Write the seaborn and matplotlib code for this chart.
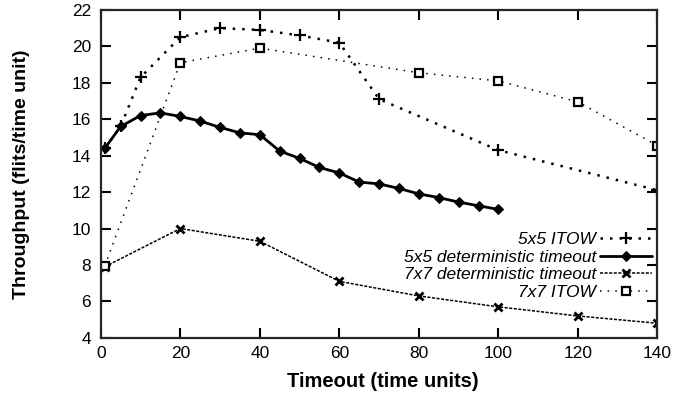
import numpy as np
import pandas as pd
import matplotlib
matplotlib.use('Agg')
import matplotlib.pyplot as plt
import seaborn as sns

# values
itow55_x = [1, 5, 10, 20, 30, 40, 50, 60, 70, 100, 140]
itow55_y = [14.4, 15.6, 18.3, 20.5, 21.0, 20.9, 20.6, 20.2, 17.1, 14.3, 12.1]

det55_x = [1, 5, 10, 15, 20, 25, 30, 35, 40, 45, 50, 55, 60, 65, 70, 75, 80, 85, 90, 95, 100]
det55_y = [14.4, 15.6, 16.2, 16.35, 16.15, 15.9, 15.55, 15.25, 15.15, 14.25, 13.85,
           13.35, 13.05, 12.55, 12.45, 12.2, 11.9, 11.7, 11.45, 11.25, 11.05]

det77_x = [1, 20, 40, 60, 80, 100, 120, 140]
det77_y = [7.9, 10.0, 9.3, 7.1, 6.3, 5.7, 5.2, 4.8]

itow77_x = [1, 20, 40, 80, 100, 120, 140]
itow77_y = [7.95, 19.1, 19.9, 18.55, 18.1, 16.95, 14.55]

x_ticks = [0, 20, 40, 60, 80, 100, 120, 140]
y_ticks = [4, 6, 8, 10, 12, 14, 16, 18, 20, 22]

sns.set_style('ticks')
plt.rcParams['font.family'] = ['Liberation Sans', 'DejaVu Sans']
plt.rcParams['text.color'] = 'black'
plt.rcParams['xtick.color'] = 'black'
plt.rcParams['ytick.color'] = 'black'
plt.rcParams['axes.labelcolor'] = 'black'

fig = plt.figure(figsize=(6.95, 4.12), dpi=100)
ax = fig.add_axes([0.145, 0.18, 0.801, 0.796])

series = [
    ('5x5 ITOW', itow55_x, itow55_y,
     dict(marker='+', markersize=8, markeredgewidth=1.6, linestyle=(0, (1, 2.8)), linewidth=1.8)),
    ('5x5 deterministic timeout', det55_x, det55_y,
     dict(marker='D', markersize=5.5, linestyle='-', linewidth=2.0)),
    ('7x7 deterministic timeout', det77_x, det77_y,
     dict(marker='x', markersize=6, markeredgewidth=2.0, linestyle=(0, (2, 1)), linewidth=1.1)),
    ('7x7 ITOW', itow77_x, itow77_y,
     dict(marker='s', markersize=6, markeredgewidth=1.6, markerfacecolor='white',
          linestyle=(0, (1, 4)), linewidth=1.1)),
]

for name, xs, ys, kw in series:
    df = pd.DataFrame({'timeout': xs, 'throughput': ys})
    sns.lineplot(data=df, x='timeout', y='throughput', ax=ax, color='black',
                 label=name, markeredgecolor='black', **kw)

ax.set_xlim(0, 140)
ax.set_ylim(4, 22)
ax.set_xticks(x_ticks)
ax.set_yticks(y_ticks)
ax.tick_params(direction='in', length=7, width=1.5, top=True, right=True, labelsize=12.5)
ax.tick_params(axis='x', pad=6)
ax.tick_params(axis='y', pad=7)
for s in ax.spines.values():
    s.set_linewidth(1.6)
    s.set_visible(True)

ax.set_xlabel('Timeout (time units)', fontsize=14.5, fontweight='bold')
ax.set_ylabel('Throughput (flits/time unit)', fontsize=14, fontweight='bold')
ax.xaxis.set_label_coords(0.506, -0.105)
ax.yaxis.set_label_coords(-0.127, 0.5)

leg = ax.legend(loc='lower right', bbox_to_anchor=(0.99, 0.115), frameon=False,
                markerfirst=False, handlelength=3.0, handletextpad=0.2,
                labelspacing=0.15, borderpad=0, borderaxespad=0,
                prop={'style': 'italic', 'size': 12.5})

fig.savefig('out.png', dpi=100)
